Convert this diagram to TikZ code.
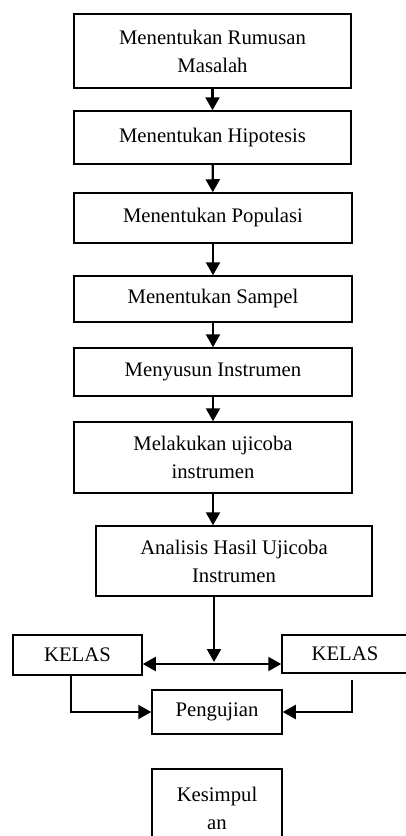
\documentclass[tikz,border=0pt]{standalone}
\usepackage{fontspec}
\setmainfont{Liberation Serif}
\usepackage{tikz}
\usetikzlibrary{positioning,arrows.meta,calc}

\tikzset{
  stepbox/.style={draw, line width=1.5pt, align=center, inner sep=0pt,
    font=\fontsize{20.7pt}{28pt}\selectfont},
  arr/.style={line width=2.2pt, -{Triangle[width=14pt,length=13pt]}},
  dblarr/.style={line width=2.2pt, {Triangle[width=14pt,length=13pt]}-{Triangle[width=14pt,length=13pt]}}
}

\begin{document}
\begin{tikzpicture}[x=1pt,y=-1pt]
\useasboundingbox (0,0) rectangle (406,836);

% Main steps
\node[stepbox, minimum width=277pt, minimum height=74pt] (rumusan) at (212.5,51) {Menentukan Rumusan\\Masalah};
\node[stepbox, minimum width=277pt, minimum height=53pt] (hipotesis) at (212.5,137.5) {Menentukan Hipotesis};
\node[stepbox, minimum width=278pt, minimum height=50pt] (populasi) at (213,218) {Menentukan Populasi};
\node[stepbox, minimum width=278pt, minimum height=46pt] (sampel) at (213,299) {Menentukan Sampel};
\node[stepbox, minimum width=278pt, minimum height=48pt] (instrumen) at (213,372) {Menyusun Instrumen};
\node[stepbox, minimum width=278pt, minimum height=71pt] (ujicoba) at (213,457.5) {Melakukan ujicoba\\instrumen};
\node[stepbox, minimum width=276pt, minimum height=70pt] (analisis) at (234,561) {Analisis Hasil Ujicoba\\Instrumen};

% Classes
\node[stepbox, minimum width=129pt, minimum height=40pt] (kelasA) at (77.5,655) {KELAS};
\node[stepbox, minimum width=126pt, minimum height=38pt] (kelasB) at (345,654) {KELAS};

% Test and conclusion
\node[stepbox, minimum width=130pt, minimum height=44pt] (uji) at (217,712) {Pengujian};
\node[stepbox, minimum width=130pt, minimum height=78pt] (simpul) at (217,808) {Kesimpul\\an};

% Arrows between steps
\draw[arr] (rumusan) -- (hipotesis);
\draw[arr] (hipotesis) -- (populasi);
\draw[arr] (populasi) -- (sampel);
\draw[arr] (sampel) -- (instrumen);
\draw[arr] (instrumen) -- (ujicoba);
\draw[arr] (ujicoba.south) -- (ujicoba.south |- analisis.north);

% Split to the classes
\coordinate (split) at (214,662);
\coordinate (bar) at (214,664);
\draw[arr] (analisis.south -| split) -- (split);
\draw[dblarr] (bar -| kelasA.east) -- (bar -| kelasB.west);

% Classes to the test
\coordinate (fromB) at (352,680);
\draw[arr] ([xshift=-6.5pt]kelasA.south) |- (uji.west);
\draw[arr] (fromB) |- (uji.east);
\end{tikzpicture}
\end{document}
